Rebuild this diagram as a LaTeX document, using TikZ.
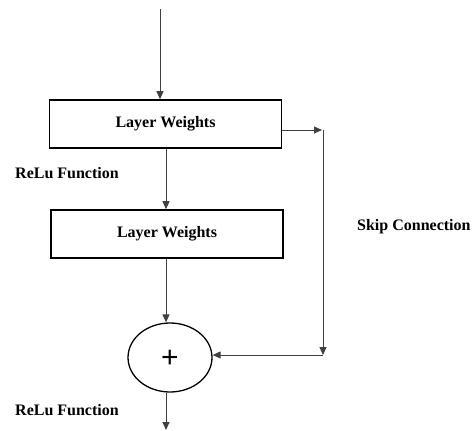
\documentclass[tikz,border=0pt]{standalone}
\usepackage{fontspec}
\setmainfont{Liberation Serif}
\newfontfamily\plusfont{Liberation Sans}
\usetikzlibrary{shapes.geometric,arrows.meta}
\begin{document}
\begin{tikzpicture}[x=1pt,y=-1pt,
  wbox/.style={draw=black,line width=1.6pt,rectangle,minimum width=232pt,minimum height=48pt,inner sep=0pt,font=\fontsize{16}{18}\selectfont\bfseries},
  sumnode/.style={draw=black,line width=1.3pt,ellipse,minimum width=84pt,minimum height=69pt,inner sep=0pt},
  arr/.style={draw=black!75,line width=0.9pt,-{Triangle[length=8pt,width=7pt]}},
  lbl/.style={anchor=west,inner sep=0pt,font=\fontsize{16}{18}\selectfont\bfseries}]
\useasboundingbox (0,0) rectangle (474,431);
\node[wbox] (box1) at (165.5,124) {Layer Weights};
\node[wbox] (box2) at (167,234) {Layer Weights};
\node[sumnode] (sum) at (170,357.5) {};
\node[inner sep=0pt,font=\plusfont\fontsize{30}{30}\selectfont] (plus) at (170,359) {+};
\coordinate (top) at (160,9);
\coordinate (lx) at (166,0);
\coordinate (s1) at (322,130);
\coordinate (s2) at (323,130);
\coordinate (s3) at (323,355);
\coordinate (out) at (166,430);
\draw[arr] (top) -- (top |- box1.north);
\draw[arr] (box1.south -| lx) -- (box2.north -| lx);
\draw[arr] (box2.south -| lx) -- (sum.north -| lx);
\draw[arr] (sum.south -| lx) -- (out);
\draw[arr] (box1.east |- s1) -- (s1);
\draw[arr] (s2) -- (s3);
\draw[arr] (s3) -- (sum.east |- s3);
\node[lbl] (relu1) at (15,173) {ReLu Function};
\node[lbl] (relu2) at (15,410) {ReLu Function};
\node[lbl] (skip) at (357,227) {Skip Connection};
\end{tikzpicture}
\end{document}
